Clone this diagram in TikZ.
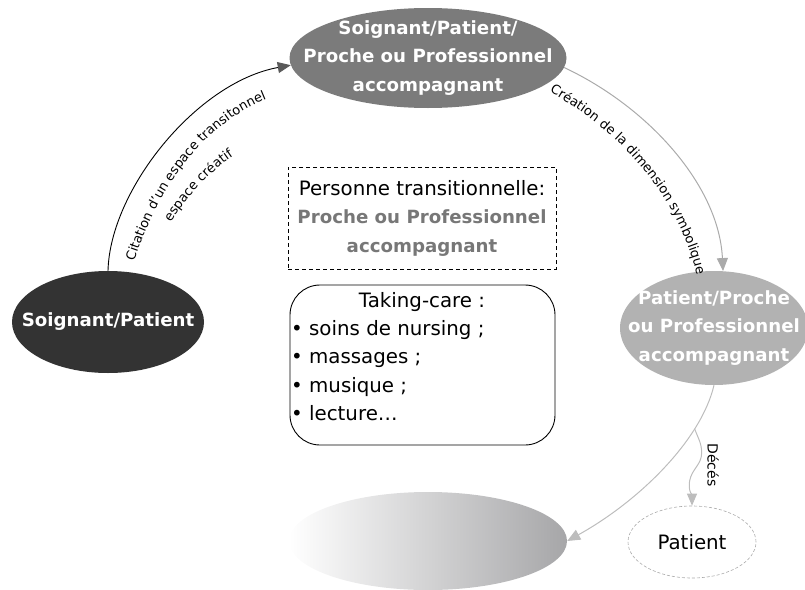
\documentclass[tikz,border=0pt]{standalone}
\usepackage{fontspec}
\setmainfont{DejaVu Sans}
\usetikzlibrary{shapes.geometric,arrows.meta,decorations.text}
\definecolor{cTop}{HTML}{7B7B7B}
\definecolor{cLeft}{HTML}{333333}
\definecolor{cRight}{HTML}{B2B2B2}
\definecolor{cGrayTxt}{HTML}{777777}
\definecolor{cArr2}{HTML}{AAAAAA}
\definecolor{cArr3}{HTML}{BDBDBD}
\definecolor{cShade}{HTML}{A6A6A8}
\begin{document}
\begin{tikzpicture}[x=1pt,y=-1pt,
  ellshape/.style={ellipse, inner sep=0pt},
  elltext/.style={inner sep=0pt, align=center, text=white,
    font=\fontsize{18.2}{28.5}\selectfont\bfseries},
  reg/.style={font=\fontsize{19.8}{28.5}\selectfont},
  curvetext/.style={decoration={text along path, text align=center,
    text={|\fontsize{13}{14}\selectfont|#1}}, decorate}
]
\useasboundingbox (0,0) rectangle (805,589);

% ellipses
\node[ellshape, fill=cTop, minimum width=277pt, minimum height=100pt] (top) at (428,58) {};
\node[elltext] (toptext) at (top.center)
  {Soignant/Patient/\\Proche ou Professionnel\\accompagnant};
\node[ellshape, fill=cLeft, minimum width=192pt, minimum height=102pt] (left) at (108,322) {};
\node[elltext] (lefttext) at (left.center) {Soignant/Patient};
\node[ellshape, fill=cRight, minimum width=188pt, minimum height=114pt] (right) at (714,328) {};
\node[elltext] (righttext) at (right.center)
  {Patient/Proche\\ou Professionnel\\accompagnant};
\node[ellshape, minimum width=278pt, minimum height=98pt,
  left color=white, right color=cShade] (bot) at (428,541) {};
\node[ellshape, draw=cArr2, dash pattern=on 3pt off 2pt, line width=0.6pt,
  minimum width=128pt, minimum height=72pt] (pat) at (692,542) {};
\node[reg] (pattext) at (pat.center) {Patient};

% boxes
\node[draw, dash pattern=on 4pt off 3pt, line width=0.9pt, minimum width=268pt,
  minimum height=102pt, align=center, reg] (trans) at (422,218)
  {Personne transitionnelle:\\
   \textcolor{cGrayTxt}{\fontsize{18.2}{28.5}\selectfont\bfseries Proche ou Professionnel}\\
   \textcolor{cGrayTxt}{\fontsize{18.2}{28.5}\selectfont\bfseries accompagnant}};
\node[draw, line width=0.9pt, rounded corners=30pt, minimum width=265pt,
  minimum height=160pt] (care) at (422.5,365) {};
\node[reg] (caretitle) at (422,302) {Taking-care :};
\node[reg, anchor=north west, align=left, inner sep=0pt] (carelist) at (291,320)
  {• soins de nursing ;\\• massages ;\\• musique ;\\• lecture…};

% arrow 1
\draw[line width=0.9pt, black, -{Triangle[length=13pt,width=11pt,color=black!65]}]
  (left.north) .. controls +(2,-81) and +(-94,17) .. (top.183);
\coordinate (a1) at (133,265);
\coordinate (a2) at (270,98);
\path[curvetext={Citation d'un espace transitonnel}]
  (a1) .. controls (152,205) and (192,128) .. (a2);
\coordinate (e1) at (167,229);
\coordinate (e2) at (240,152);
\path[curvetext={espace créatif}]
  (e1) .. controls (183,201) and (207,172) .. (e2);

% arrow 2
\draw[line width=1pt, cArr2, -{Triangle[length=13pt,width=11pt]}]
  (top.-4) .. controls +(85,40) and +(-4,-85) .. (right.81);
\coordinate (c1) at (548,91);
\coordinate (c2) at (697,277);
\path[curvetext={Création de la dimension symbolique}]
  (c1) .. controls (615,128) and (678,192) .. (c2);

% arrow 3
\draw[line width=1pt, cArr3, -{Triangle[length=13pt,width=11pt]}]
  (right.south) .. controls +(-13,55) and +(72,-40) .. (bot.east) coordinate[pos=0.26] (br);

% arrow 4
\draw[line width=1pt, cArr3, -{Triangle[length=12pt,width=10pt]}]
  (br) to[out=-70,in=90] ++(7,24) to[out=-90,in=80] ++(-12,28) to[out=-100,in=90] (pat.north);
\node[rotate=-90, font=\fontsize{14}{14}\selectfont] (deces) at (713,465) {Décés};
\end{tikzpicture}
\end{document}
